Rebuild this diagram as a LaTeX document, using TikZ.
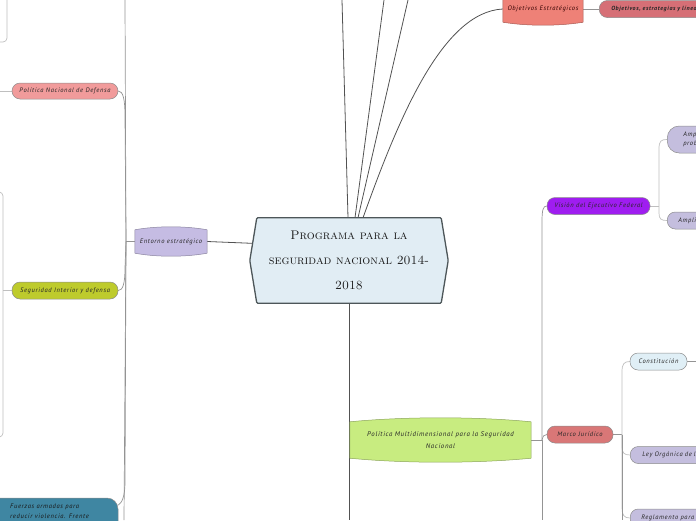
\documentclass[tikz,border=0pt]{standalone}
\usepackage{fontspec}
\newfontfamily\hand[LetterSpace=10]{PT Sans}
\usetikzlibrary{calc}
\pgfdeclarelayer{edges}\pgfdeclarelayer{shapes}
\pgfsetlayers{edges,shapes,main}
\definecolor{cCent}{HTML}{E1EDF4}
\definecolor{cCentB}{HTML}{4D5659}
\definecolor{cOE}{HTML}{EE8177}
\definecolor{cOEtwo}{HTML}{D66F76}
\definecolor{cPol}{HTML}{F19B9B}
\definecolor{cSeg}{HTML}{BECB2C}
\definecolor{cFa}{HTML}{3F86A2}
\definecolor{cEnt}{HTML}{C5BCE3}
\definecolor{cPM}{HTML}{C8EC80}
\definecolor{cVis}{HTML}{9F1DF0}
\definecolor{cLav}{HTML}{C4BEDE}
\definecolor{cMar}{HTML}{D97777}
\definecolor{cCon}{HTML}{E0EFF6}
\newcommand\drumshape[3]{%
  \path[fill=#2, draw=#2!70!black, line width=0.5pt]
    ($(#1.north west)+(0,#3)$)
    .. controls ($(#1.north west)!0.3!(#1.north east)+(0,-#3/3)$) and ($(#1.north west)!0.7!(#1.north east)+(0,-#3/3)$) ..
    ($(#1.north east)+(0,#3)$) -- ($(#1.south east)+(0,-#3)$)
    .. controls ($(#1.south west)!0.7!(#1.south east)+(0,#3/3)$) and ($(#1.south west)!0.3!(#1.south east)+(0,#3/3)$) ..
    ($(#1.south west)+(0,-#3)$) -- cycle;}
\begin{document}
\begin{tikzpicture}[x=1pt,y=-1pt,
  lbl/.style={font=\hand\itshape\fontsize{6.5}{7}\selectfont, text=black!85, inner sep=0pt, align=center},
  pill/.style={lbl, rounded corners=8pt, draw=black!45, line width=0.5pt, minimum height=16pt},
  mainedge/.style={draw=black!68, line width=0.8pt},
  bus/.style={draw=black!42, line width=0.7pt},
  subbus/.style={draw=black!25, line width=0.7pt}]
\useasboundingbox (0,0) rectangle (696,520);
\clip (0,0) rectangle (696,520);

% central node
\node[minimum width=184pt, minimum height=85pt, inner sep=0pt, align=center,
      font=\scshape\fontsize{12.5}{25}\selectfont, text=black!90] (cent) at (349,260.5)
      {Programa para la\\seguridad nacional 2014-\\2018};

% top branch
\node[lbl, minimum width=80pt, minimum height=32pt, text=black!60!red!50!black] (oe) at (543,9) {Objetivos Estratégicos};
\node[pill, fill=cOEtwo, anchor=west, text width=100pt, align=left, inner xsep=12pt, minimum height=17pt,
      font=\hand\itshape\bfseries\fontsize{6}{7}\selectfont] (oe2) at (599,9) {Objetivos, estrategias y línea};

% left branch
\node[lbl, minimum width=72pt, minimum height=29pt] (ent) at (171,241.5) {Entorno estratégico};
\node[pill, fill=cPol, minimum width=106pt] (pol) at (65,91) {Política Nacional de Defensa};
\node[pill, fill=cSeg, minimum width=106pt, minimum height=17pt] (seg) at (65,290.5) {Seguridad Interior y defensa};
\node[fill=cFa, draw=black!45, line width=0.5pt, rounded corners=11pt, minimum width=128pt, minimum height=44pt, inner sep=0pt] (fa) at (54,520) {};
\node[lbl, anchor=north west, align=left, text=black!90, font=\hand\itshape\fontsize{6.5}{10}\selectfont] (fat) at (10,504) {Fuerzas armadas para\\reducir violencia. Frente};

% bottom branch
\node[lbl, minimum width=181pt, minimum height=44pt, font=\hand\itshape\fontsize{6.8}{12}\selectfont] (pm) at (440.5,440) {Política Multidimensional para la Seguridad\\Nacional};
\node[pill, fill=cVis, minimum width=103pt, minimum height=17pt] (vis) at (598.5,206) {Visión del Ejecutivo Federal};
\node[pill, fill=cLav, anchor=west, text width=60pt, align=left, inner xsep=16pt, minimum height=27pt, rounded corners=12pt,
      font=\hand\itshape\fontsize{6.5}{9}\selectfont] (amp) at (667,139.5) {Amp\\prob};
\node[pill, fill=cLav, anchor=west, text width=60pt, align=left, inner xsep=11pt, minimum height=17pt] (ampl) at (667,220.5) {Amplia};
\node[pill, fill=cMar, minimum width=66pt, minimum height=17pt] (mj) at (580,434.5) {Marco Jurídico};
\node[pill, fill=cCon, minimum width=57pt, minimum height=17pt] (con) at (658.5,361.5) {Constitución};
\node[pill, fill=cLav, anchor=west, text width=70pt, align=left, inner xsep=12pt, minimum height=17pt] (ley) at (630,455) {Ley Orgánica de l};
\node[pill, fill=cLav, anchor=west, text width=70pt, align=left, inner xsep=11pt, minimum height=18pt] (reg) at (630,518) {Reglamento para l};

% shapes
\begin{pgfonlayer}{shapes}
\path[fill=cCent, draw=cCentB, line width=1.3pt, rounded corners=1pt]
  (cent.north west) -- (cent.north east) -- ([xshift=7pt]cent.east) -- (cent.south east)
  -- (cent.south west) -- ([xshift=-7pt]cent.west) -- cycle;
\drumshape{oe}{cOE}{3}
\drumshape{ent}{cEnt}{3}
\drumshape{pm}{cPM}{4}
\end{pgfonlayer}

% connectors
\coordinate (t1) at (342,0);
\coordinate (t2) at (384,0);
\coordinate (t3) at (408,0);
\coordinate (bot) at (349,520);
\coordinate (eh) at (126,241.5);
\coordinate (etop) at (125,0);
\coordinate (ebot) at (124,520);
\coordinate (tl1) at (7,0);
\coordinate (tl2) at (0,42);
\coordinate (pl) at (0,91);
\coordinate (sb1) at (0,192);
\coordinate (sb2) at (0,437);
\coordinate (rh) at (542,440);
\coordinate (rbot) at (542,520);
\coordinate (vh) at (659,206);
\coordinate (mh) at (622,434.5);
\coordinate (mbot) at (622,520);
\coordinate (cr) at (696,361.5);
\begin{pgfonlayer}{edges}
\draw[mainedge] ([xshift=-1pt]cent.north) -- (t1);
\draw[mainedge] ([xshift=6pt]cent.north) -- (t2);
\draw[mainedge] ([xshift=9pt]cent.north) -- (t3);
\draw[mainedge] ([xshift=14pt]cent.north) .. controls (398,120) and (442,12) .. (oe.west);
\draw[bus] (oe.east) -- (oe2.west);
\draw[mainedge] (cent.south) -- (bot);
\draw[mainedge] (ent.east) -- ([yshift=17pt]cent.west);
% left bus
\draw[bus] (ent.west) -- (eh);
\draw[bus] (eh) -- (etop);
\draw[bus] (eh) -- (125,116) .. controls (125,99) and (123,91) .. (pol.east);
\draw[bus] (eh) -- (125,268) .. controls (125,283) and (123,290.5) .. (seg.east);
\draw[bus] (eh) -- (125,482) .. controls (125,496) and (122,503) .. ([yshift=15pt]fa.east);
\draw[bus] (eh) -- (ebot);
\draw[subbus, rounded corners=4pt] (tl1) -- (7,42) -- (tl2);
\draw[subbus] (pol.west) -- (pl);
\draw[subbus] (seg.west) -- (3,290.5);
\draw[subbus, rounded corners=4pt] (sb1) -- (3,192) -- (3,437) -- (sb2);
% right bus
\draw[bus] (pm.east) -- (rh);
\draw[bus] (rh) -- (542,222) .. controls (542,210) and (543,206) .. (vis.west);
\draw[bus] (rh) .. controls (543,436) and (544,434.5) .. (mj.west);
\draw[bus] (rh) -- (rbot);
\draw[subbus] (vis.east) -- (vh);
\draw[subbus] (vh) -- (659,149) .. controls (659,141) and (661,139.5) .. (amp.west);
\draw[subbus] (vh) -- (659,213) .. controls (659,219) and (661,220.5) .. (ampl.west);
\draw[bus] (mj.east) -- (mh);
\draw[subbus] (mh) -- (622,372) .. controls (622,364) and (624,361.5) .. (con.west);
\draw[subbus] (mh) -- (622,446) .. controls (622,453) and (624,455) .. (ley.west);
\draw[subbus] (mh) -- (622,508) .. controls (622,515) and (624,518) .. (reg.west);
\draw[bus] (mh) -- (mbot);
\draw[bus] (con.east) -- (cr);
\end{pgfonlayer}
\end{tikzpicture}
\end{document}
